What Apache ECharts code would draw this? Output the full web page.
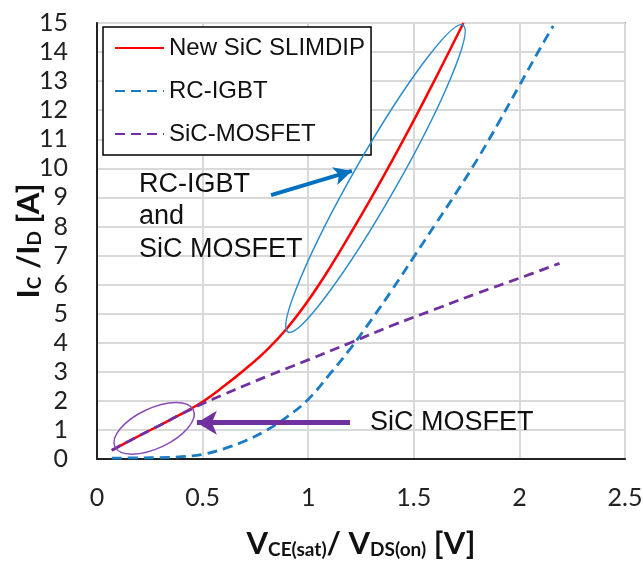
<!DOCTYPE html>
<html>
<head>
<meta charset="utf-8">
<script src="https://cdn.jsdelivr.net/npm/echarts@6/dist/echarts.min.js"></script>
<style>
  html, body { margin: 0; padding: 0; background: #fff; }
  #main { width: 643px; height: 561px; }
</style>
</head>
<body>
<div id="main"></div>
<script>
// series names (legend order)
const seriesNames = ['New SiC SLIMDIP', 'RC-IGBT', 'SiC-MOSFET'];

// New SiC SLIMDIP
const slimdipV = [0.07, 0.2, 0.3, 0.4, 0.5, 0.6, 0.7, 0.8, 0.9, 1.0, 1.1, 1.2, 1.3, 1.4, 1.5, 1.6, 1.735];
const slimdipI = [0.3, 0.8, 1.17, 1.55, 1.97, 2.5, 3.08, 3.72, 4.5, 5.45, 6.55, 7.75, 9.0, 10.3, 11.65, 13.05, 15];

// RC-IGBT
const igbtV = [0.07, 0.2, 0.3, 0.4, 0.5, 0.6, 0.7, 0.8, 0.9, 1.0, 1.1, 1.2, 1.3, 1.4, 1.5, 1.6, 1.7, 1.8, 1.9, 2.0, 2.1, 2.16];
const igbtI = [0.03, 0.04, 0.05, 0.08, 0.16, 0.35, 0.62, 0.98, 1.45, 2.05, 2.9, 3.8, 4.8, 5.85, 6.95, 8.05, 9.15, 10.3, 11.55, 12.85, 14.15, 14.9];

// SiC-MOSFET
const mosfetV = [0.07, 0.2, 0.3, 0.4, 0.5, 0.6, 0.7, 0.8, 0.9, 1.0, 1.2, 1.4, 1.6, 1.8, 2.0, 2.19];
const mosfetI = [0.3, 0.8, 1.17, 1.55, 1.9, 2.22, 2.53, 2.83, 3.12, 3.41, 4.0, 4.6, 5.15, 5.7, 6.22, 6.73];

// tick labels
const xTickLabels = ['0', '0.5', '1', '1.5', '2', '2.5'];
const yTickLabels = ['0', '1', '2', '3', '4', '5', '6', '7', '8', '9', '10', '11', '12', '13', '14', '15'];

// annotations (data coordinates)
const blueArrow = [[0.824, 9.08], [1.207, 9.91]];
const purpleArrow = [[1.198, 1.25], [0.473, 1.25]];
const blueEllipseTips = [[0.904, 4.37], [1.733, 14.93]];
const purpleEllipseTips = [[0.085, 0.42], [0.456, 1.69]];
const noteBoth = { text: 'RC-IGBT\nand\nSiC MOSFET', at: [0.199, 8.33] };
const noteMosfet = { text: 'SiC MOSFET', at: [1.293, 1.24] };

function pairs(xs, ys) {
  return xs.map((x, i) => [x, ys[i]]);
}

function loadChart() {
  var chartDom = document.getElementById('main');
  var myChart = echarts.init(chartDom);
  var option;

  var bold = { fontFamily: 'Lato', fontWeight: 'bold', fontSize: 31, color: '#111', lineHeight: 36, verticalAlign: 'bottom' };
  var sub = { fontFamily: 'Lato', fontWeight: 'bold', fontSize: 19, color: '#111', lineHeight: 16, verticalAlign: 'bottom' };

  option = {
    animation: false,
    backgroundColor: '#fff',
    grid: {
      left: 97, right: 18, top: 23, bottom: 102,
      show: true, borderColor: '#333', borderWidth: 1.5,
      outerBoundsMode: 'none'
    },
    legend: {
      orient: 'vertical',
      left: 103, top: 27,
      padding: [7, 6, 7, 11],
      itemWidth: 49, itemHeight: 14, itemGap: 15,
      backgroundColor: '#fff', borderColor: '#000', borderWidth: 1.5,
      itemStyle: { opacity: 0 },
      textStyle: { fontFamily: 'Liberation Sans', fontSize: 24, color: '#111', lineHeight: 28 },
      data: seriesNames
    },
    xAxis: {
      type: 'value', min: 0, max: 2.5, interval: 0.5,
      axisLine: { show: true, lineStyle: { color: '#222', width: 2 } },
      axisTick: { show: false },
      axisLabel: {
        margin: 26, fontFamily: 'Lato', fontSize: 25, color: '#222',
        formatter: (v) => xTickLabels[Math.round(v / 0.5)]
      },
      splitLine: { show: true, lineStyle: { color: '#d9d9d9', width: 2 } },
      name: '{b|V}{s|CE(sat)}{b|/ V}{s|DS(on)}{b| [V]}',
      nameLocation: 'middle', nameGap: 64, nameMoveOverlap: false,
      nameTextStyle: { rich: { b: bold, s: sub } }
    },
    yAxis: {
      type: 'value', min: 0, max: 15, interval: 1,
      axisLine: { show: true, lineStyle: { color: '#222', width: 2 } },
      axisTick: { show: false },
      axisLabel: {
        margin: 29, fontFamily: 'Lato', fontSize: 25, color: '#222',
        formatter: (v) => yTickLabels[Math.round(v)]
      },
      splitLine: { show: true, lineStyle: { color: '#d9d9d9', width: 2 } },
      name: '{b|I}{s|C}{b| /I}{s|D}{b| [A]}',
      nameLocation: 'middle', nameGap: 53, nameRotate: 90, nameMoveOverlap: false,
      nameTextStyle: { rich: { b: bold, s: sub } }
    },
    series: [
      {
        name: seriesNames[0], type: 'line', data: pairs(slimdipV, slimdipI),
        smooth: 0.4, symbol: 'none',
        lineStyle: { color: '#ff0000', width: 2.5 },
        itemStyle: { color: '#ff0000' }
      },
      {
        name: seriesNames[1], type: 'line', data: pairs(igbtV, igbtI),
        smooth: 0.4, symbol: 'none',
        lineStyle: { color: '#1a7cc4', width: 2.8, type: [10, 6] },
        itemStyle: { color: '#1a7cc4' },
        markLine: {
          silent: true, symbol: ['none', 'arrow'], symbolSize: [14, 18],
          label: { show: false },
          lineStyle: { color: '#0070c0', width: 4, type: 'solid' },
          data: [[{ coord: blueArrow[0] }, { coord: blueArrow[1] }]]
        }
      },
      {
        name: seriesNames[2], type: 'line', data: pairs(mosfetV, mosfetI),
        smooth: 0.4, symbol: 'none',
        lineStyle: { color: '#7030a0', width: 2.8, type: [10, 6] },
        itemStyle: { color: '#7030a0' },
        markLine: {
          silent: true, symbol: ['none', 'arrow'], symbolSize: [18, 20],
          label: { show: false },
          lineStyle: { color: '#7030a0', width: 5, type: 'solid' },
          data: [[{ coord: purpleArrow[0] }, { coord: purpleArrow[1] }]]
        }
      }
    ]
  };

  myChart.setOption(option);

  // ellipses and notes placed from data coordinates
  function toPx(p) {
    return myChart.convertToPixel({ seriesIndex: 0 }, p);
  }

  function ellipse(tips, ry, color) {
    var p1 = toPx(tips[0]);
    var p2 = toPx(tips[1]);
    var dx = p2[0] - p1[0];
    var dy = p2[1] - p1[1];
    return {
      type: 'ellipse', silent: true, z: 100,
      x: (p1[0] + p2[0]) / 2, y: (p1[1] + p2[1]) / 2,
      rotation: Math.atan2(-dy, dx),
      shape: { cx: 0, cy: 0, rx: Math.sqrt(dx * dx + dy * dy) / 2, ry: ry },
      style: { fill: null, stroke: color, lineWidth: 1.5 }
    };
  }

  function note(n) {
    var p = toPx(n.at);
    return {
      type: 'text', silent: true, z: 100,
      x: p[0], y: p[1],
      style: {
        text: n.text, fontFamily: 'Liberation Sans', fontSize: 27, fill: '#111',
        lineHeight: 32.5, align: 'left', verticalAlign: 'middle'
      }
    };
  }

  myChart.setOption({
    graphic: [
      ellipse(blueEllipseTips, 22, '#2b8ccd'),
      ellipse(purpleEllipseTips, 20, '#8a4cb8'),
      note(noteBoth),
      note(noteMosfet)
    ]
  });
}

document.addEventListener('DOMContentLoaded', () => {
  loadChart();
});
</script>
</body>
</html>
